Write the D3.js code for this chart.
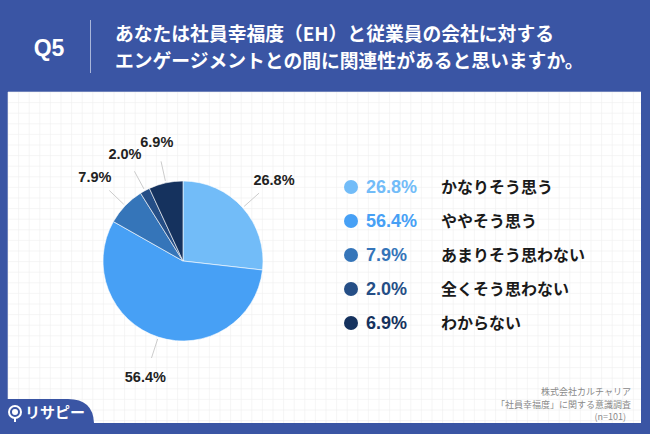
<!DOCTYPE html>
<html>
<head>
<meta charset="utf-8">
<script src="https://cdn.jsdelivr.net/npm/d3@7"></script>
<style>
body { margin: 0; padding: 0; }
svg { display: block; }
text { font-family: "Noto Sans CJK JP", "Noto Sans", sans-serif; }
</style>
</head>
<body>
<div id="chart"></div>
<script>
var categories = ['かなりそう思う', 'ややそう思う', 'あまりそう思わない', '全くそう思わない', 'わからない'];
var values = [26.8, 56.4, 7.9, 2.0, 6.9];
var valueLabels = ['26.8%', '56.4%', '7.9%', '2.0%', '6.9%'];
var colors = ['#72bcf8', '#47a0f5', '#3575b9', '#254e86', '#15325e'];
var titleLines = ['あなたは社員幸福度（EH）と従業員の会社に対する', 'エンゲージメントとの間に関連性があると思いますか。'];
var sourceLines = ['株式会社カルチャリア', '「社員幸福度」に関する意識調査', '(n=101)'];

var W = 650, H = 434;
var svg = d3.select('#chart').append('svg').attr('width', W).attr('height', H);

// background + panel
svg.append('rect').attr('width', W).attr('height', H).attr('fill', '#3a55a4');
svg.append('rect').attr('x', 8).attr('y', 92).attr('width', 633).attr('height', 331).attr('fill', '#fff');

// faint grid
var grid = svg.append('g').attr('stroke', '#eeeeee').attr('stroke-width', 0.6);
d3.range(8, 641, 10.6).forEach(function(x) {
    grid.append('line').attr('x1', x).attr('x2', x).attr('y1', 92).attr('y2', 423);
});
d3.range(92, 423, 10.6).forEach(function(y) {
    grid.append('line').attr('x1', 8).attr('x2', 641).attr('y1', y).attr('y2', y);
});

// header
svg.append('text').attr('x', 49).attr('y', 56).attr('text-anchor', 'middle')
    .attr('fill', '#fff').attr('font-size', 23).attr('font-weight', 'bold')
    .style('font-family', '"Liberation Sans", Arial, sans-serif').text('Q5');
svg.append('line').attr('x1', 90.5).attr('x2', 90.5).attr('y1', 20).attr('y2', 73)
    .attr('stroke', '#a9b6da').attr('stroke-width', 1);
svg.selectAll('.title').data(titleLines).enter().append('text')
    .attr('x', 115).attr('y', function(d, i) { return 41 + i * 27; })
    .attr('fill', '#fff').attr('font-size', 18.8).attr('font-weight', 'bold')
    .text(function(d) { return d; });

// pie
var cx = 183, cy = 261, r = 80;
var pie = d3.pie().sort(null).value(function(d) { return d; });
var arcs = pie(values);
var arc = d3.arc().innerRadius(0).outerRadius(r);
var lineIn = d3.arc().innerRadius(r + 2).outerRadius(r + 2);
var lineOut = d3.arc().innerRadius(r + 22).outerRadius(r + 22);
var labelArc = d3.arc().innerRadius(r + 42).outerRadius(r + 42);

var pg = svg.append('g').attr('transform', 'translate(' + cx + ',' + cy + ')');
pg.selectAll('path').data(arcs).enter().append('path')
    .attr('d', arc)
    .attr('fill', function(d, i) { return colors[i]; })
    .attr('stroke', '#fff').attr('stroke-width', 0.6);

pg.selectAll('.lead').data(arcs).enter().append('line')
    .attr('x1', function(d) { return lineIn.centroid(d)[0]; })
    .attr('y1', function(d) { return lineIn.centroid(d)[1]; })
    .attr('x2', function(d) { return lineOut.centroid(d)[0]; })
    .attr('y2', function(d) { return lineOut.centroid(d)[1]; })
    .attr('stroke', '#cccccc').attr('stroke-width', 1);

pg.selectAll('.plabel').data(arcs).enter().append('text')
    .attr('x', function(d) { return labelArc.centroid(d)[0]; })
    .attr('y', function(d) { return labelArc.centroid(d)[1]; })
    .attr('dy', '0.35em').attr('text-anchor', 'middle')
    .attr('font-size', 14.5).attr('font-weight', 'bold').attr('fill', '#222')
    .style('font-family', '"Liberation Sans", Arial, sans-serif')
    .text(function(d, i) { return valueLabels[i]; });

// legend
var ly = d3.scalePoint().domain(d3.range(categories.length)).range([187, 323]);
var lg = svg.append('g');
lg.selectAll('circle').data(categories).enter().append('circle')
    .attr('cx', 351).attr('cy', function(d, i) { return ly(i); }).attr('r', 7)
    .attr('fill', function(d, i) { return colors[i]; });
lg.selectAll('.lv').data(valueLabels).enter().append('text')
    .attr('x', 366).attr('y', function(d, i) { return ly(i); }).attr('dy', '0.36em')
    .attr('font-size', 18).attr('font-weight', 'bold')
    .attr('fill', function(d, i) { return colors[i]; })
    .style('font-family', '"Liberation Sans", Arial, sans-serif')
    .text(function(d) { return d; });
lg.selectAll('.lc').data(categories).enter().append('text')
    .attr('x', 441).attr('y', function(d, i) { return ly(i); }).attr('dy', '0.36em')
    .attr('font-size', 16).attr('font-weight', 'bold').attr('fill', '#1a1a1a')
    .text(function(d) { return d; });

// source
svg.selectAll('.src').data(sourceLines).enter().append('text')
    .attr('x', function(d, i) { return i == 2 ? 626 : 631; })
    .attr('y', function(d, i) { return 395 + i * 12.5; })
    .attr('text-anchor', 'end').attr('font-size', 9).attr('fill', '#8a8a8a')
    .text(function(d) { return d; });

// logo tab
svg.append('path')
    .attr('d', 'M0,399 L68,399 Q93,399 94,423 L0,423 Z')
    .attr('fill', '#3a55a4');
var logo = svg.append('g').attr('transform', 'translate(15,412)');
logo.append('circle').attr('r', 6).attr('fill', 'none').attr('stroke', '#fff').attr('stroke-width', 2);
logo.append('circle').attr('r', 3).attr('fill', '#fff');
logo.append('line').attr('x1', 0).attr('x2', 0).attr('y1', 6).attr('y2', 10).attr('stroke', '#fff').attr('stroke-width', 2);
svg.append('text').attr('x', 25).attr('y', 418).attr('fill', '#fff')
    .attr('font-size', 15).attr('font-weight', 'bold').text('リサピー');
</script>
</body>
</html>
